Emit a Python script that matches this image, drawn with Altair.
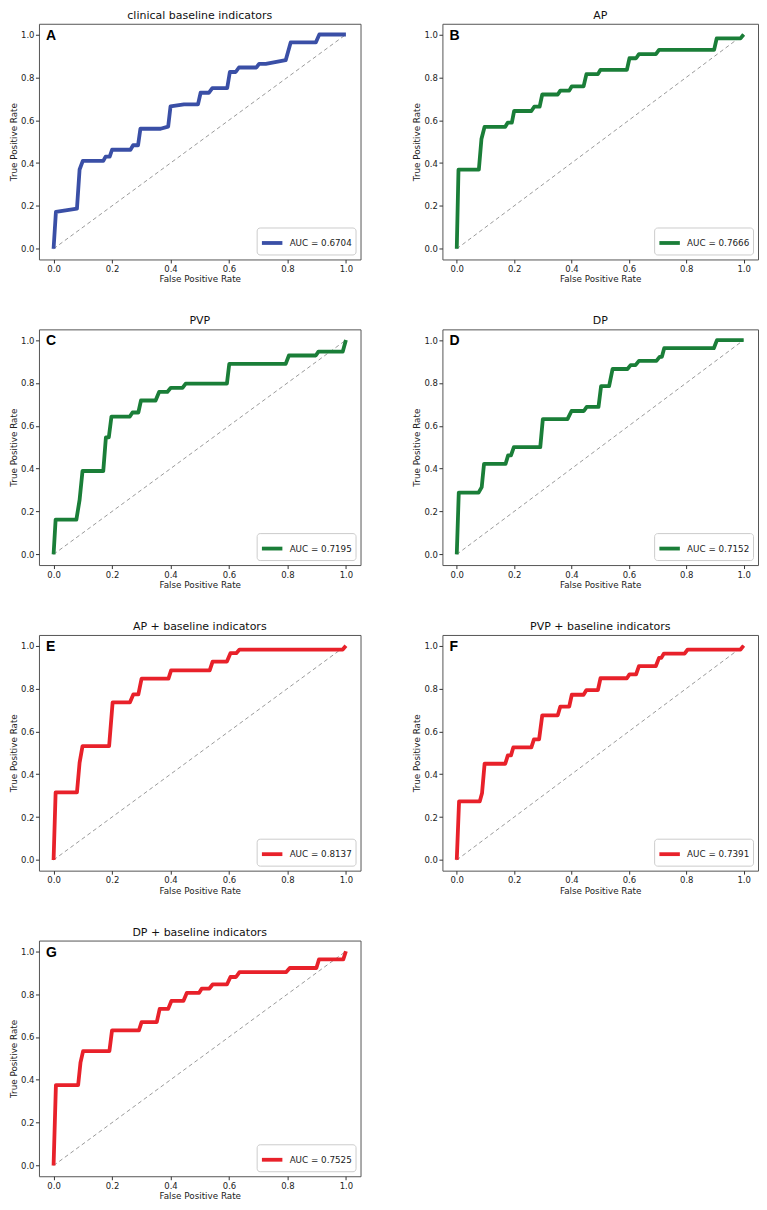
import altair as alt
import pandas as pd

# ---------------- data ----------------
panel_keys = ["A", "B", "C", "D", "E", "F", "G"]
titles = ["clinical baseline indicators", "AP", "PVP", "DP",
          "AP + baseline indicators", "PVP + baseline indicators", "DP + baseline indicators"]
auc_labels = ["AUC = 0.6704", "AUC = 0.7666", "AUC = 0.7195", "AUC = 0.7152",
              "AUC = 0.8137", "AUC = 0.7391", "AUC = 0.7525"]
line_colors = ["#3a4fa6", "#1a7e38", "#1a7e38", "#1a7e38", "#e8212a", "#e8212a", "#e8212a"]

fpr_A = [0.0, 0.008, 0.08, 0.089, 0.1, 0.17, 0.178, 0.192, 0.2, 0.263, 0.272, 0.289, 0.297, 0.366,
         0.392, 0.4, 0.446, 0.494, 0.503, 0.531, 0.543, 0.594, 0.603, 0.623, 0.634, 0.694, 0.703,
         0.726, 0.794, 0.811, 0.897, 0.909, 1.0]
tpr_A = [0.0, 0.172, 0.187, 0.37, 0.41, 0.41, 0.43, 0.43, 0.462, 0.462, 0.483, 0.483, 0.56, 0.56,
         0.57, 0.664, 0.674, 0.674, 0.728, 0.728, 0.75, 0.75, 0.825, 0.825, 0.846, 0.846, 0.863,
         0.863, 0.88, 0.963, 0.963, 1.0, 1.0]

fpr_B = [0.0, 0.006, 0.077, 0.086, 0.097, 0.169, 0.178, 0.192, 0.2, 0.26, 0.27, 0.289, 0.298, 0.352,
         0.361, 0.392, 0.401, 0.442, 0.452, 0.492, 0.501, 0.593, 0.602, 0.625, 0.635, 0.694, 0.705,
         0.897, 0.906, 0.989, 1.0]
tpr_B = [0.0, 0.369, 0.369, 0.512, 0.569, 0.569, 0.589, 0.589, 0.643, 0.643, 0.663, 0.663, 0.72, 0.72,
         0.738, 0.738, 0.758, 0.758, 0.815, 0.815, 0.835, 0.835, 0.889, 0.889, 0.908, 0.908, 0.928,
         0.928, 0.982, 0.982, 1.0]

fpr_C = [0.0, 0.007, 0.078, 0.089, 0.099, 0.17, 0.179, 0.189, 0.198, 0.261, 0.27, 0.29, 0.299, 0.349,
         0.361, 0.389, 0.401, 0.441, 0.452, 0.593, 0.601, 0.794, 0.805, 0.897, 0.906, 0.989, 1.0]
tpr_C = [0.0, 0.162, 0.162, 0.254, 0.389, 0.389, 0.546, 0.546, 0.643, 0.643, 0.662, 0.662, 0.718,
         0.718, 0.758, 0.758, 0.777, 0.777, 0.797, 0.797, 0.889, 0.889, 0.928, 0.928, 0.946, 0.946, 1.0]

fpr_D = [0.0, 0.007, 0.076, 0.087, 0.095, 0.17, 0.179, 0.189, 0.199, 0.291, 0.3, 0.386, 0.4, 0.443,
         0.453, 0.494, 0.503, 0.531, 0.543, 0.595, 0.606, 0.623, 0.635, 0.696, 0.707, 0.715, 0.723,
         0.896, 0.907, 1.0]
tpr_D = [0.0, 0.288, 0.288, 0.314, 0.422, 0.422, 0.462, 0.462, 0.5, 0.5, 0.631, 0.631, 0.669, 0.669,
         0.688, 0.688, 0.785, 0.785, 0.865, 0.865, 0.883, 0.883, 0.903, 0.903, 0.922, 0.922, 0.962,
         0.962, 1.0, 1.0]

fpr_E = [0.0, 0.007, 0.08, 0.089, 0.099, 0.19, 0.202, 0.261, 0.273, 0.29, 0.301, 0.393, 0.402, 0.534,
         0.544, 0.593, 0.605, 0.625, 0.636, 0.989, 1.0]
tpr_E = [0.0, 0.315, 0.315, 0.454, 0.531, 0.531, 0.735, 0.735, 0.773, 0.773, 0.846, 0.846, 0.885,
         0.885, 0.926, 0.926, 0.965, 0.965, 0.982, 0.982, 1.0]

fpr_F = [0.0, 0.008, 0.08, 0.088, 0.097, 0.169, 0.178, 0.189, 0.197, 0.26, 0.269, 0.287, 0.298, 0.352,
         0.361, 0.392, 0.401, 0.442, 0.452, 0.492, 0.501, 0.593, 0.602, 0.625, 0.635, 0.694, 0.705,
         0.713, 0.722, 0.794, 0.805, 0.989, 1.0]
tpr_F = [0.0, 0.273, 0.273, 0.311, 0.449, 0.449, 0.488, 0.488, 0.525, 0.525, 0.563, 0.563, 0.675,
         0.675, 0.716, 0.716, 0.771, 0.771, 0.793, 0.793, 0.848, 0.848, 0.866, 0.866, 0.905, 0.905,
         0.943, 0.943, 0.963, 0.963, 0.982, 0.982, 1.0]

fpr_G = [0.0, 0.008, 0.084, 0.092, 0.101, 0.191, 0.2, 0.292, 0.301, 0.353, 0.363, 0.392, 0.403, 0.444,
         0.456, 0.498, 0.507, 0.533, 0.544, 0.593, 0.605, 0.624, 0.636, 0.796, 0.808, 0.899, 0.908,
         0.991, 1.0]
tpr_G = [0.0, 0.375, 0.375, 0.48, 0.534, 0.534, 0.631, 0.631, 0.669, 0.669, 0.731, 0.731, 0.768,
         0.768, 0.806, 0.806, 0.826, 0.826, 0.845, 0.845, 0.88, 0.88, 0.903, 0.903, 0.922, 0.922,
         0.962, 0.962, 1.0]

diag_x = [0.0, 1.0]
diag_y = [0.0, 1.0]

tick_values = [0.0, 0.2, 0.4, 0.6, 0.8, 1.0]

curves = {
    "A": (fpr_A, tpr_A), "B": (fpr_B, tpr_B), "C": (fpr_C, tpr_C), "D": (fpr_D, tpr_D),
    "E": (fpr_E, tpr_E), "F": (fpr_F, tpr_F), "G": (fpr_G, tpr_G),
}

FONT = "DejaVu Sans"


def panel(idx, width, height):
    key = panel_keys[idx]
    fpr, tpr = curves[key]
    df = pd.DataFrame({"fpr": fpr, "tpr": tpr, "i": list(range(len(fpr))),
                       "label": [auc_labels[idx]] * len(fpr)})
    diag = pd.DataFrame({"fpr": diag_x, "tpr": diag_y})

    xs = alt.Scale(domain=[-0.05, 1.05], nice=False, zero=False)
    ys = alt.Scale(domain=[-0.05, 1.05], nice=False, zero=False)
    xax = alt.Axis(values=tick_values, format=".1f", title="False Positive Rate")
    yax = alt.Axis(values=tick_values, format=".1f", title="True Positive Rate")

    diag_layer = alt.Chart(diag).mark_line(
        color="#9a9a9a", strokeWidth=1, strokeDash=[4, 3]
    ).encode(
        x=alt.X("fpr:Q", scale=xs, axis=xax),
        y=alt.Y("tpr:Q", scale=ys, axis=yax),
    )

    roc = alt.Chart(df).mark_line(strokeWidth=3.8, strokeJoin="round", strokeCap="butt").encode(
        x=alt.X("fpr:Q", scale=xs, axis=xax),
        y=alt.Y("tpr:Q", scale=ys, axis=yax),
        order="i:Q",
        color=alt.Color(
            "label:N",
            scale=alt.Scale(domain=[auc_labels[idx]], range=[line_colors[idx]]),
            legend=alt.Legend(
                title=None, orient="bottom-right", offset=5, padding=3,
                strokeColor="#cccccc", fillColor="white", cornerRadius=3,
                symbolType="stroke", symbolSize=420, symbolStrokeWidth=3.8,
                labelFontSize=8.8, labelFont=FONT, labelColor="#222222",
                symbolOffset=0, labelOffset=5,
            ),
        ),
    )

    letter = alt.Chart(pd.DataFrame({"t": [key]})).mark_text(
        align="left", baseline="top", fontSize=14, fontWeight="bold",
        font="Liberation Sans", color="black"
    ).encode(text="t:N", x=alt.value(7), y=alt.value(5))

    return alt.layer(diag_layer, roc, letter).properties(
        width=width, height=height,
        title=alt.TitleParams(titles[idx], fontSize=11, fontWeight="normal", font=FONT,
                              color="#111111", offset=3, anchor="middle"),
    )


LW, RW, H = 322, 316, 236
row1 = alt.hconcat(panel(0, LW, H), panel(1, RW, H), spacing=50).resolve_scale(color="independent")
row2 = alt.hconcat(panel(2, LW, H), panel(3, RW, H), spacing=50).resolve_scale(color="independent")
row3 = alt.hconcat(panel(4, LW, H), panel(5, RW, H), spacing=50).resolve_scale(color="independent")
row4 = panel(6, LW, H)

chart = alt.vconcat(row1, row2, row3, row4, spacing=30).resolve_scale(
    color="independent"
).configure(
    padding=0, background="white"
).configure_view(
    stroke="#555555", strokeWidth=1
).configure_axis(
    grid=False, domain=False, tickSize=3.5, tickColor="#333333", tickWidth=1,
    labelFontSize=8.5, labelFont=FONT, labelColor="#222222", labelPadding=1.5,
    titleFontSize=8.8, titleFont=FONT, titleColor="#222222", titleFontWeight="normal",
    titlePadding=2,
)

chart.save("out.html", embed_options={"renderer": "svg", "actions": False})
